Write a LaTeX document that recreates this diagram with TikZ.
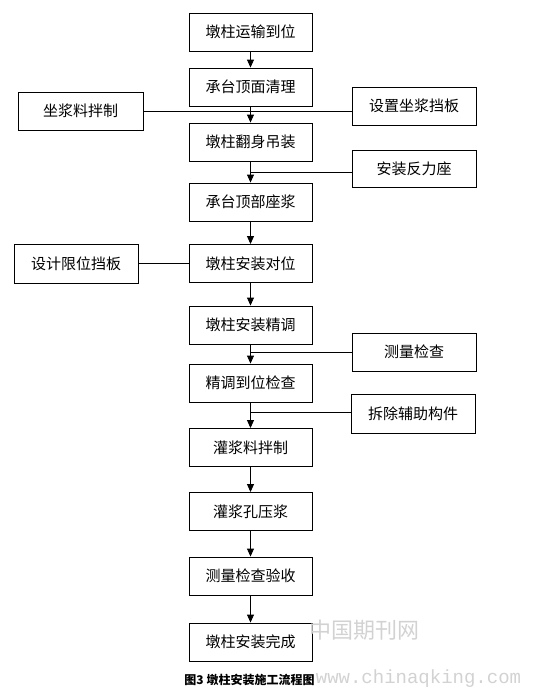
\documentclass[tikz,border=0pt]{standalone}
\usepackage{fontspec}
\setmainfont{Liberation Sans}
\newfontfamily\cjkfont{Noto Sans CJK SC}
\newfontfamily\markfont{Liberation Mono}
\usetikzlibrary{arrows.meta,positioning}
\tikzset{
  >={Triangle[length=8pt,width=7pt]},
  stepbox/.style={
    draw, rectangle, line width=0.9pt, align=center, inner sep=2pt,
    font=\cjkfont\fontsize{15}{17}\selectfont,
    minimum width=123pt, minimum height=38pt
  },
  sidebox/.style={stepbox, minimum width=124pt},
  flow/.style={->, line width=0.9pt},
  feed/.style={line width=0.9pt},
  wmark/.style={text=gray!35, inner sep=0pt},
}

\begin{document}
\begin{tikzpicture}[x=1pt,y=-1pt]
  \useasboundingbox (0,0) rectangle (546,688);
  % main column
  \node[stepbox] (s1)  at (250.5,32)  {墩柱运输到位};
  \node[stepbox] (s2)  at (250.5,87)  {承台顶面清理};
  \node[stepbox] (s3)  at (250.5,142) {墩柱翻身吊装};
  \node[stepbox] (s4)  at (250.5,202) {承台顶部座浆};
  \node[stepbox] (s5)  at (250.5,263.5) {墩柱安装对位};
  \node[stepbox] (s6)  at (250.5,325) {墩柱安装精调};
  \node[stepbox] (s7)  at (250.5,383) {精调到位检查};
  \node[stepbox] (s8)  at (250.5,447.5) {灌浆料拌制};
  \node[stepbox] (s9)  at (250.5,511.5) {灌浆孔压浆};
  \node[stepbox] (s10) at (250.5,576) {测量检查验收};
  \node[stepbox] (s11) at (250.5,642) {墩柱安装完成};
  % side boxes
  \node[sidebox, minimum width=125pt] (zjbz) at (80.5,111) {坐浆料拌制};
  \node[sidebox] (zjdb) at (414,106)   {设置坐浆挡板};
  \node[sidebox, minimum height=37pt] (flz) at (414,168.5) {安装反力座};
  \node[sidebox, minimum height=39pt] (xwdb) at (76,263.5) {设计限位挡板};
  \node[sidebox] (cljc) at (414,352)   {测量检查};
  \node[sidebox, minimum height=39pt] (ccgj) at (413,413.5) {拆除辅助构件};
  % junctions on the main arrows
  \coordinate (j1) at (250.5,111);
  \coordinate (j2) at (250.5,172);
  \coordinate (j3) at (250.5,352);
  \coordinate (j4) at (250.5,412);
  % main arrows
  \draw[flow] (s1) -- (s2);
  \draw[flow] (s2) -- (s3);
  \draw[flow] (s3) -- (s4);
  \draw[flow] (s4) -- (s5);
  \draw[flow] (s5) -- (s6);
  \draw[flow] (s6) -- (s7);
  \draw[flow] (s7) -- (s8);
  \draw[flow] (s8) -- (s9);
  \draw[flow] (s9) -- (s10);
  \draw[flow] (s10) -- (s11);
  % side feeds
  \draw[feed] (zjbz.east) -- (j1);
  \draw[feed] (j1) -- (j1 -| zjdb.west);
  \draw[feed] (j2) -- (j2 -| flz.west);
  \draw[feed] (xwdb) -- (s5);
  \draw[feed] (j3) -- (cljc.west);
  \draw[feed] (j4) -- (j4 -| ccgj.west);
  % watermark and caption
  \node[wmark, font=\cjkfont\fontsize{22}{24}\selectfont] (wm1) at (364,630) {中国期刊网};
  \node[wmark, font=\markfont\fontsize{19}{21}\selectfont] (wm2) at (418.5,679) {www.chinaqking.com};
  \node[inner sep=0pt, font=\cjkfont\bfseries\fontsize{12}{14}\selectfont] (cap) at (249.5,680) {图3 墩柱安装施工流程图};
\end{tikzpicture}
\end{document}
